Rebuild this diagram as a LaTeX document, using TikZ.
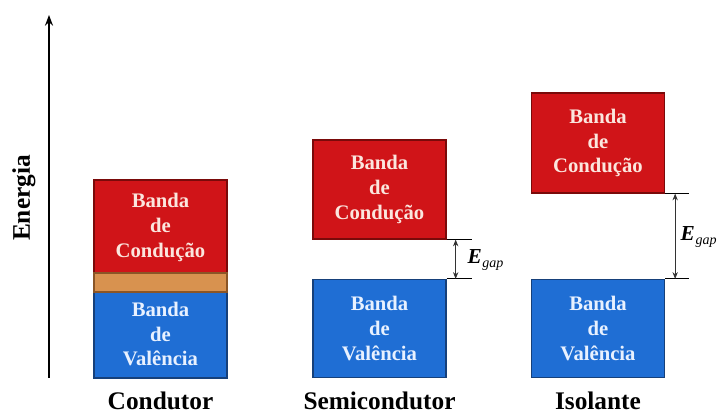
\documentclass[tikz,border=0pt]{standalone}
\usepackage{fontspec}
\setmainfont{Liberation Serif}
\usetikzlibrary{arrows.meta}

\definecolor{bandred}{HTML}{D01418}
\definecolor{bandredline}{HTML}{7A0A0A}
\definecolor{bandblue}{HTML}{1F6ED4}
\definecolor{bandblueline}{HTML}{16407A}
\definecolor{strip}{HTML}{D8924F}
\definecolor{stripline}{HTML}{8A5526}
\definecolor{redtext}{HTML}{FBE6DE}
\definecolor{bluetext}{HTML}{E8F1FF}

\newcommand{\egap}{\textbf{E}\kern0.5pt\raisebox{-0.35ex}{\fontsize{10.5}{12}\selectfont gap}}

\begin{document}
\begin{tikzpicture}[x=0.75pt,y=0.75pt,
  band/.style={draw, line width=1pt, minimum width=99.75pt, inner sep=0pt,
    align=center, font=\bfseries\fontsize{15.5}{18.5}\selectfont},
  cband/.style={band, fill=bandred, draw=bandredline, text=redtext},
  vband/.style={band, fill=bandblue, draw=bandblueline, text=bluetext},
  title/.style={font=\bfseries\fontsize{19}{22}\selectfont},
  gapline/.style={line width=0.6pt},
  gaparrow/.style={{Stealth[length=5pt,width=4pt]}-{Stealth[length=5pt,width=4pt]}, line width=0.6pt, color=black!80},
  gaplabel/.style={anchor=west, inner sep=1pt, font=\itshape\fontsize{16}{18}\selectfont}]

  \useasboundingbox (0,0) rectangle (718,417);

  % eixo de energia
  \coordinate (e0) at (49,39);
  \coordinate (e1) at (49,402);
  \draw[line width=1.2pt, -{Stealth[length=8pt,width=6pt]}] (e0) -- (e1);
  \node[title, rotate=90] (en) at (24,219) {Energia};

  % condutor
  \node[cband, minimum height=71.25pt] (cc) at (160.5,189.5) {Banda\\de\\Condução};
  \node[vband, minimum height=66pt] (cv) at (160.5,83) {Banda\\de\\Valência};
  \node[draw=stripline, fill=strip, line width=1pt, minimum width=99.75pt,
    minimum height=14.25pt, inner sep=0pt] (cs) at (160.5,134.5) {};
  \node[title, anchor=base] (tc) at (160.5,7) {Condutor};

  % semicondutor
  \node[cband, minimum height=74.25pt] (sc) at (379.5,227.5) {Banda\\de\\Condução};
  \node[vband, minimum height=73.5pt] (sv) at (379.5,88.5) {Banda\\de\\Valência};
  \node[title, anchor=base] (ts) at (379.5,7) {Semicondutor};

  \coordinate (sgt) at ([xshift=18.75pt]sc.south east);
  \coordinate (sgb) at ([xshift=18.75pt]sv.north east);
  \draw[gapline] (sc.south east) -- (sgt);
  \draw[gapline] (sv.north east) -- (sgb);
  \draw[gaparrow] ([xshift=6.75pt]sc.south east) -- ([xshift=6.75pt]sv.north east);
  \node[gaplabel] (sgap) at (466,157) {\egap};

  % isolante
  \node[cband, minimum height=75pt] (ic) at (598,274) {Banda\\de\\Condução};
  \node[vband, minimum height=73.5pt] (iv) at (598,88.5) {Banda\\de\\Valência};
  \node[title, anchor=base] (ti) at (598,7) {Isolante};

  \coordinate (igt) at ([xshift=18pt]ic.south east);
  \coordinate (igb) at ([xshift=18pt]iv.north east);
  \draw[gapline] (ic.south east) -- (igt);
  \draw[gapline] (iv.north east) -- (igb);
  \draw[gaparrow] ([xshift=7.5pt]ic.south east) -- ([xshift=7.5pt]iv.north east);
  \node[gaplabel] (igap) at (679,180) {\egap};
\end{tikzpicture}
\end{document}
